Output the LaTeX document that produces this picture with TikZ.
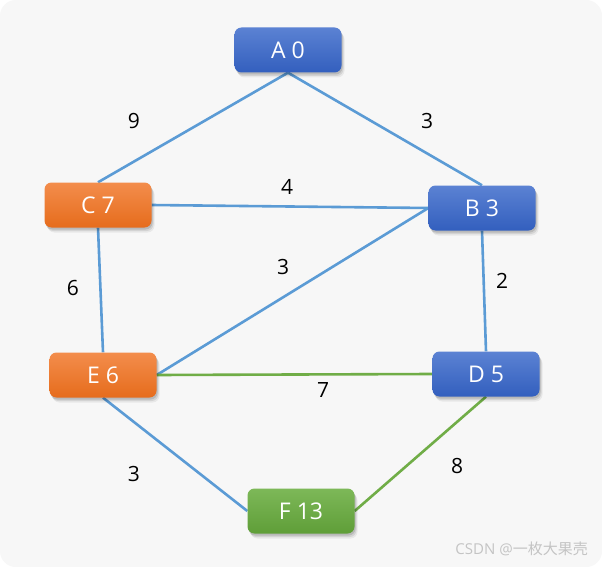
\documentclass[tikz,border=0pt]{standalone}
\usepackage{fontspec}
\setmainfont{Open Sans}
\newfontfamily\cjk{Noto Sans CJK SC}
\definecolor{bgc}{HTML}{F7F7F7}
\definecolor{blueT}{HTML}{5B82D3}
\definecolor{blueB}{HTML}{335FBE}
\definecolor{orT}{HTML}{F38D4C}
\definecolor{orB}{HTML}{E66C1C}
\definecolor{grT}{HTML}{7DB858}
\definecolor{grB}{HTML}{5F9E38}
\definecolor{eblue}{HTML}{5B9BD5}
\definecolor{egreen}{HTML}{70AD47}
\definecolor{wmc}{HTML}{C4C4C4}
\pgfdeclarelayer{back}
\pgfdeclarelayer{edges}
\pgfsetlayers{back,edges,main}
\begin{document}
\begin{tikzpicture}[x=1pt,y=-1pt,
  box/.style={rounded corners=7pt, minimum width=107pt, minimum height=45pt, inner sep=0pt,
    text=white, font=\fontsize{23}{27}\selectfont,
    preaction={fill=black, fill opacity=0.06, transform canvas={xshift=3pt,yshift=-5pt}},
    preaction={fill=black, fill opacity=0.09, transform canvas={xshift=2pt,yshift=-3.5pt}},
    preaction={fill=black, fill opacity=0.12, transform canvas={xshift=1pt,yshift=-2pt}}},
  bluebox/.style={box, top color=blueT, bottom color=blueB},
  orbox/.style={box, top color=orT, bottom color=orB},
  grbox/.style={box, top color=grT, bottom color=grB},
  eb/.style={draw=eblue, line width=2.6pt},
  eg/.style={draw=egreen, line width=2.6pt},
  lbl/.style={font=\fontsize{21}{24}\selectfont, text=black, inner sep=0pt}]
\useasboundingbox (0,0) rectangle (602,567);
\begin{pgfonlayer}{back}
\fill[white] (0,0) rectangle (602,567);
\fill[bgc, rounded corners=16pt] (0,0) rectangle (602,567);
\end{pgfonlayer}

\node[bluebox] (A) at (288,50) {A 0};
\node[orbox]   (C) at (98,205) {C 7};
\node[bluebox] (B) at (482,208) {B 3};
\node[orbox]   (E) at (103,375) {E 6};
\node[bluebox] (D) at (486,374) {D 5};
\node[grbox]   (F) at (301,511) {F 13};

\begin{pgfonlayer}{edges}
\draw[eb] (A.south) -- (C.north);
\draw[eb] (A.south) -- (B.north);
\draw[eb] (C.east) -- (B.west);
\draw[eb] (C.south) -- (E.north);
\draw[eb] (B.west) -- (E.east);
\draw[eb] (B.south) -- (D.north);
\draw[eg] (E.east) -- (D.west);
\draw[eb] (E.south) -- (F.west);
\draw[eg] (D.south) -- (F.east);
\end{pgfonlayer}

\node[lbl] (l1) at (134,121) {9};
\node[lbl] (l2) at (427,121) {3};
\node[lbl] (l3) at (287,187) {4};
\node[lbl] (l4) at (73,288) {6};
\node[lbl] (l5) at (283,267) {3};
\node[lbl] (l6) at (502,281) {2};
\node[lbl] (l7) at (323,390) {7};
\node[lbl] (l8) at (134,474) {3};
\node[lbl] (l9) at (457,466) {8};

\node[anchor=east, text=wmc, font=\fontsize{15}{18}\selectfont, inner sep=0pt] (wm) at (588,549) {CSDN @{\cjk 一枚大果壳}};
\end{tikzpicture}
\end{document}
